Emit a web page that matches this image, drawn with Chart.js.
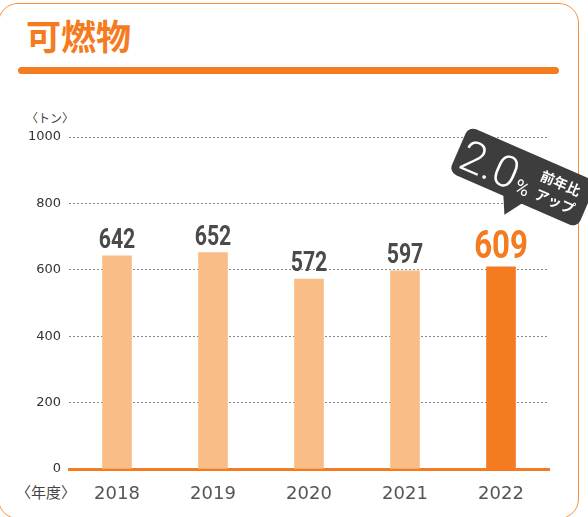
<!DOCTYPE html>
<html>
<head>
<meta charset="utf-8">
<script src="https://cdn.jsdelivr.net/npm/chart.js@4.4.0/dist/chart.umd.min.js"></script>
<style>
    body { margin: 0; background: #fff; }
    #wrap { position: relative; width: 588px; height: 517px; overflow: hidden; }
    .card {
        position: absolute; left: -2px; top: 3px; width: 581px; height: 516px;
        box-sizing: border-box; border: 1.5px solid #f7923a; border-radius: 20px;
    }
    .title {
        position: absolute; left: 26px; top: 17px; margin: 0;
        font: 700 35px/35px "Noto Sans CJK JP", sans-serif; color: #f47b20;
    }
    .rule {
        position: absolute; left: 18px; top: 67px; width: 541px; height: 7px;
        border-radius: 4px; background: #f47b20;
    }
    .unit {
        position: absolute; font-family: "Noto Sans CJK JP", sans-serif; color: #444;
    }
    canvas { position: absolute; left: 0; top: 0; }
</style>
</head>
<body>
<div id="wrap">
    <div class="card"></div>
    <h1 class="title">可燃物</h1>
    <div class="rule"></div>
    <div class="unit" style="left:26px; top:109px; font-size:12px;">〈トン〉</div>
    <div class="unit" style="left:16px; top:481px; font-size:15px;">〈年度〉</div>
    <canvas id="chart" width="588" height="517"></canvas>
</div>
<script>
const years = ['2018', '2019', '2020', '2021', '2022'];
const tonnage = [642, 652, 572, 597, 609];
const yTicks = [0, 200, 400, 600, 800, 1000];
const growthLabel = '2.0';

const ORANGE = '#f47b20';
const PALE = '#f9bd87';
const last = tonnage.length - 1;

// value above each bar, narrow bold digits
const valueLabels = {
    id: 'valueLabels',
    afterDatasetsDraw(chart) {
        const ctx = chart.ctx;
        const meta = chart.getDatasetMeta(0);
        meta.data.forEach((bar, i) => {
            const hot = i === last;
            ctx.save();
            ctx.translate(bar.x, bar.y - (hot ? 9 : 8));
            ctx.scale(hot ? 0.8 : 0.76, 1);
            ctx.font = (hot ? '700 39px' : '700 28px') + ' Roboto, sans-serif';
            ctx.fillStyle = hot ? ORANGE : '#4a4a4a';
            ctx.textAlign = 'center';
            ctx.textBaseline = 'alphabetic';
            ctx.fillText(String(tonnage[i]), 0, 0);
            ctx.restore();
        });
    }
};

// tilted speech bubble with the year-on-year change
const growthBubble = {
    id: 'growthBubble',
    afterDraw(chart) {
        const ctx = chart.ctx;
        const w = 140, h = 50, r = 8;
        ctx.save();
        ctx.translate(523, 177);
        ctx.rotate(23.5 * Math.PI / 180);
        ctx.fillStyle = '#3d3d3d';
        ctx.beginPath();
        ctx.roundRect(-w / 2, -h / 2, w, h, r);
        ctx.fill();
        ctx.beginPath();
        ctx.moveTo(-11, h / 2 - 1);
        ctx.lineTo(-2, 42);
        ctx.lineTo(10, h / 2 - 1);
        ctx.closePath();
        ctx.fill();

        ctx.fillStyle = '#fff';
        ctx.textBaseline = 'alphabetic';
        ctx.textAlign = 'left';
        ctx.font = '300 44px Roboto, sans-serif';
        ctx.fillText(growthLabel, -65, 17);
        const tw = ctx.measureText(growthLabel).width;
        ctx.font = '400 20px Roboto, sans-serif';
        ctx.fillText('%', -65 + tw + 2, 17);
        ctx.font = '700 14px "Noto Sans CJK JP", sans-serif';
        ctx.textAlign = 'center';
        ctx.fillText('前年比', 37, -4);
        ctx.fillText('アップ', 39, 15);
        ctx.restore();
    }
};

new Chart(document.getElementById('chart'), {
    type: 'bar',
    data: {
        labels: years,
        datasets: [{
            data: tonnage,
            backgroundColor: tonnage.map((v, i) => i === last ? ORANGE : PALE),
            barThickness: 29
        }]
    },
    options: {
        responsive: false,
        animation: false,
        layout: { padding: { top: 137, right: 39, left: 0, bottom: 0 } },
        plugins: {
            legend: { display: false },
            tooltip: { enabled: false }
        },
        scales: {
            x: {
                grid: { display: false },
                border: { display: true, color: ORANGE, width: 3 },
                ticks: {
                    color: '#555',
                    padding: 7,
                    font: { family: 'DejaVu Sans', size: 18 }
                },
                afterFit(scale) { scale.height = 48; }
            },
            y: {
                min: 0,
                max: 1000,
                afterBuildTicks(scale) { scale.ticks = yTicks.map(v => ({ value: v })); },
                border: { display: false, dash: [2, 2] },
                grid: {
                    drawTicks: false,
                    color: c => c.tick && c.tick.value === 0 ? 'transparent' : '#888',
                    lineWidth: 1
                },
                ticks: {
                    color: '#333',
                    padding: 8,
                    font: { family: 'DejaVu Sans', size: 13 },
                    callback: v => String(v)
                },
                afterFit(scale) { scale.width = 69; }
            }
        }
    },
    plugins: [valueLabels, growthBubble]
});
</script>
</body>
</html>
